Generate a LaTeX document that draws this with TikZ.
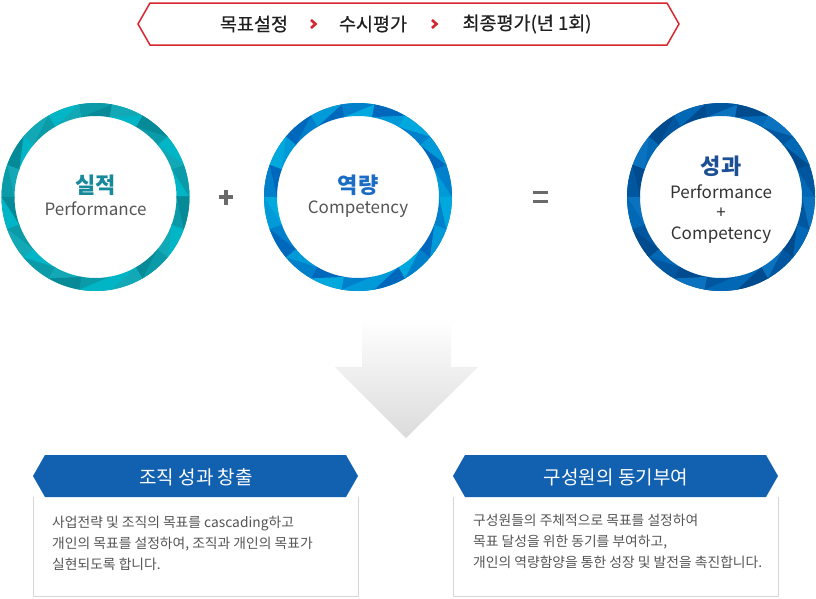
\documentclass[tikz,border=0pt]{standalone}
\usepackage{fontspec}
\setmainfont{Noto Sans CJK KR}
\newfontfamily\kmed{Noto Sans CJK KR}[FakeBold=0.6]
\usetikzlibrary{calc}
\definecolor{bannerred}{HTML}{D8262E}
\definecolor{txtgray}{HTML}{555555}
\definecolor{darktxt}{HTML}{333333}
\definecolor{hdrblue}{HTML}{1260B0}
\definecolor{boxline}{HTML}{D6D6D6}
\definecolor{opgray}{HTML}{6A6A6A}
% teal ring
\definecolor{ta}{HTML}{00B5C5}
\definecolor{tb}{HTML}{0A9AA8}
\definecolor{tc}{HTML}{12A8B6}
\definecolor{td}{HTML}{078A98}
% blue ring
\definecolor{ba}{HTML}{009AD8}
\definecolor{bb}{HTML}{0080CA}
\definecolor{bc}{HTML}{0068BC}
\definecolor{bd}{HTML}{00A8DE}
% dark blue ring
\definecolor{da}{HTML}{0068B4}
\definecolor{db}{HTML}{00569F}
\definecolor{dc}{HTML}{004A8E}
\definecolor{dd}{HTML}{0A72BE}
\definecolor{t1col}{HTML}{16899A}
\definecolor{t2col}{HTML}{1A6CC4}
\definecolor{t3col}{HTML}{1D4F94}
\newcommand\facetring[2]{%
  \begin{scope}[shift={(#1)}]
    \foreach \i/\p/\q in {0/a/b,1/c/a,2/b/d,3/a/c,4/d/b,5/c/a,6/b/c,7/a/d,8/c/b,9/d/a,10/b/c,11/a/b,12/c/d,13/b/a,14/a/c,15/d/b,16/c/a,17/b/d}{%
      \pgfmathsetmacro\aa{\i*20}%
      \pgfmathsetmacro\bb{\aa+20.4}%
      \fill[#2\p] (\aa:94pt) arc[start angle=\aa,end angle=\bb,radius=94pt] -- (\bb:81pt) arc[start angle=\bb,end angle=\aa,radius=81pt] -- cycle;
      \fill[#2\q] (\aa:94pt) arc[start angle=\aa,end angle=\bb,radius=94pt] -- (\bb:81pt) -- cycle;
    }
  \end{scope}}
\tikzset{
  bantext/.style={font=\kmed\fontsize{18.5}{20}\selectfont, text=black!88, inner sep=0},
  chev/.style={draw=bannerred, line width=2.6pt, line cap=butt, line join=miter},
  ctitle/.style={font=\bfseries\fontsize{22}{24}\selectfont, inner sep=0},
  csub/.style={font=\fontsize{17}{20.5}\selectfont, inner sep=0, align=center},
  hdr/.style={font=\fontsize{19}{21}\selectfont, text=white, inner sep=0},
  body/.style={font=\fontsize{13.8}{21}\selectfont, text=txtgray, align=left, inner sep=0, anchor=north west},
  ringnode/.style={circle, minimum size=188pt, inner sep=0, draw=none},
}
\begin{document}
\begin{tikzpicture}[x=1pt,y=-1pt]
\useasboundingbox (0,0) rectangle (816,598);
\fill[white] (0,0) rectangle (816,598);

% top banner
\draw[bannerred, line width=1.5pt, line join=miter] (138,24) -- (150,3) -- (667,3) -- (679,24) -- (667,45) -- (150,45) -- cycle;
\node[bantext] (s1) at (254,24) {목표설정};
\node[bantext] (s2) at (373,24) {수시평가};
\node[bantext] (s3) at (527,24) {최종평가(년 1회)};
\draw[chev] (311,20) -- (315.5,24) -- (311,28);
\draw[chev] (432,20) -- (436.5,24) -- (432,28);

% circles
\node[ringnode] (c1) at (95.5,197) {};
\node[ringnode] (c2) at (358,197) {};
\node[ringnode] (c3) at (721,197) {};
\facetring{c1}{t}
\facetring{c2}{b}
\facetring{c3}{d}

\node[ctitle, text=t1col] (c1t) at (95.5,185) {실적};
\node[csub, text=txtgray] (c1s) at (95.5,209) {Performance};
\node[ctitle, text=t2col] (c2t) at (358,185) {역량};
\node[csub, text=txtgray] (c2s) at (358,209) {Competency};
\node[ctitle, text=t3col] (c3t) at (721,166) {성과};
\node[csub, text=darktxt] (c3s) at (721,214) {Performance\\+\\Competency};

% operators
\fill[opgray] (219,195) rectangle (233,199);
\fill[opgray] (224,189.5) rectangle (228,204.5);
\fill[opgray] (533,190.5) rectangle (548,193.5);
\fill[opgray] (533,199.5) rectangle (548,202.5);

% big arrow
\shade[top color=white, bottom color=black!14] (362,318) -- (451,318) -- (451,367) -- (478,367) -- (406,438) -- (335,367) -- (362,367) -- cycle;

% box 1
\draw[boxline, line width=0.8pt] (33,497) -- (33,596.5) -- (358,596.5) -- (358,497);
\fill[hdrblue] (33,476) -- (45,455) -- (346,455) -- (358,476) -- (346,497) -- (45,497) -- cycle;
\node[hdr] (h1) at (196,477) {조직 성과 창출};
\node[body] (b1) at (52,516) {사업전략 및 조직의 목표를 cascading하고\\개인의 목표를 설정하여, 조직과 개인의 목표가\\실현되도록 합니다.};

% box 2
\draw[boxline, line width=0.8pt] (453,497) -- (453,596.5) -- (778,596.5) -- (778,497);
\fill[hdrblue] (453,476) -- (465,455) -- (766,455) -- (778,476) -- (766,497) -- (465,497) -- cycle;
\node[hdr] (h2) at (616,477) {구성원의 동기부여};
\node[body] (b2) at (473,514) {구성원들의 주체적으로 목표를 설정하여\\목표 달성을 위한 동기를 부여하고,\\개인의 역량함양을 통한 성장 및 발전을 촉진합니다.};
\end{tikzpicture}
\end{document}
